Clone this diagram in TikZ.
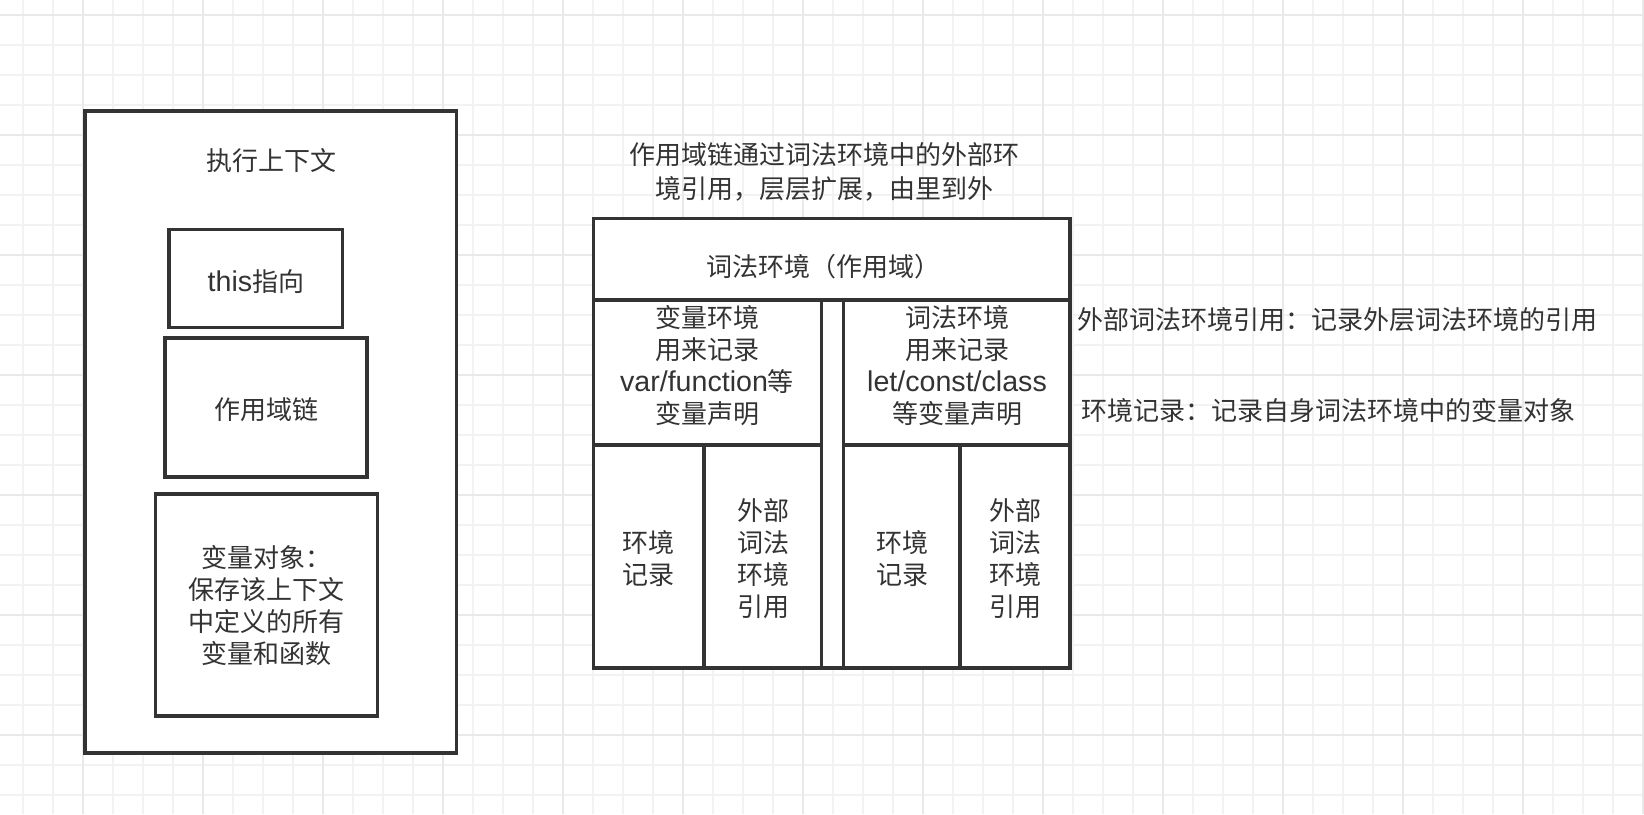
\documentclass[tikz,border=0pt]{standalone}
\usepackage{fontspec}
\setmainfont{Noto Sans CJK SC}
\newfontfamily\lat[Scale=1.1]{Liberation Sans}
\usetikzlibrary{fit}
\definecolor{ink}{HTML}{333333}
\definecolor{gridminor}{HTML}{F2F2F2}
\definecolor{gridmajor}{HTML}{E9E9E9}
\begin{document}
\begin{tikzpicture}[x=1pt,y=-1pt,
  box/.style={draw=ink, line width=3.2pt, fill=white, inner sep=0pt, rectangle},
  txt/.style={text=ink, font=\fontsize{26}{32}\selectfont, align=center, inner sep=0pt},
  minorline/.style={draw=gridminor, line width=1.5pt},
  majorline/.style={draw=gridmajor, line width=2pt}]
\fill[white] (0,0) rectangle (1644,814);
\useasboundingbox (0,0) rectangle (1644,814);
% grid
\foreach \k in {0,...,54} \draw[minorline] ({23+30*\k},0) -- ({23+30*\k},814);
\foreach \k in {0,...,26} \draw[minorline] (0,{15+30*\k}) -- (1644,{15+30*\k});
\foreach \k in {2,6,...,54} \draw[majorline] ({23+30*\k},0) -- ({23+30*\k},814);
\foreach \k in {0,4,...,24} \draw[majorline] (0,{15+30*\k}) -- (1644,{15+30*\k});

% left: execution context
\node[box, fit={(85,111) (456.5,753)}] (ec) {};
\node[box, fit={(169,229.6) (342.7,327.6)}] (thisbox) {};
\node[box, fit={(165,338) (367,477)}] (chainbox) {};
\node[box, fit={(155.7,494) (377.3,716)}] (vobox) {};
\node[txt] (t_ec) at (271,161) {执行上下文};
\node[txt] (t_this) at (256,282) {{\lat this}指向};
\node[txt] (t_chain) at (266,410) {作用域链};
\node[txt] (t_vo) at (266,606) {变量对象：\\保存该上下文\\中定义的所有\\变量和函数};

% right: lexical environment
\node[txt, font=\fontsize{26}{34}\selectfont] (t_title) at (824,172) {作用域链通过词法环境中的外部环\\境引用，层层扩展，由里到外};
\node[box, fit={(593.3,218.3) (1070,668)}] (scope) {};
\node[box, fit={(593.3,218.3) (1070,300)}] (lexbox) {};
\node[box, fit={(593.3,300) (821.7,445)}] (vebox) {};
\node[box, fit={(593.3,445) (704,668)}] (er1box) {};
\node[box, fit={(704,445) (821.7,668)}] (out1box) {};
\node[box, fit={(843.3,300) (1070,445)}] (lebox) {};
\node[box, fit={(843.3,445) (960,668)}] (er2box) {};
\node[box, fit={(960,445) (1070,668)}] (out2box) {};

\node[txt] (t_lex) at (823,267) {词法环境（作用域）};
\node[txt] (t_ve) at (707,366) {变量环境\\用来记录\\{\lat var/function}等\\变量声明};
\node[txt] (t_le) at (957,366) {词法环境\\用来记录\\{\lat let/const/class}\\等变量声明};
\node[txt] (t_er1) at (648,559) {环境\\记录};
\node[txt] (t_out1) at (763,559) {外部\\词法\\环境\\引用};
\node[txt] (t_er2) at (902,559) {环境\\记录};
\node[txt] (t_out2) at (1015,559) {外部\\词法\\环境\\引用};

% side notes
\node[txt, anchor=west] (side1) at (1077,320) {外部词法环境引用：记录外层词法环境的引用};
\node[txt, anchor=west] (side2) at (1081,411) {环境记录：记录自身词法环境中的变量对象};
\end{tikzpicture}
\end{document}
